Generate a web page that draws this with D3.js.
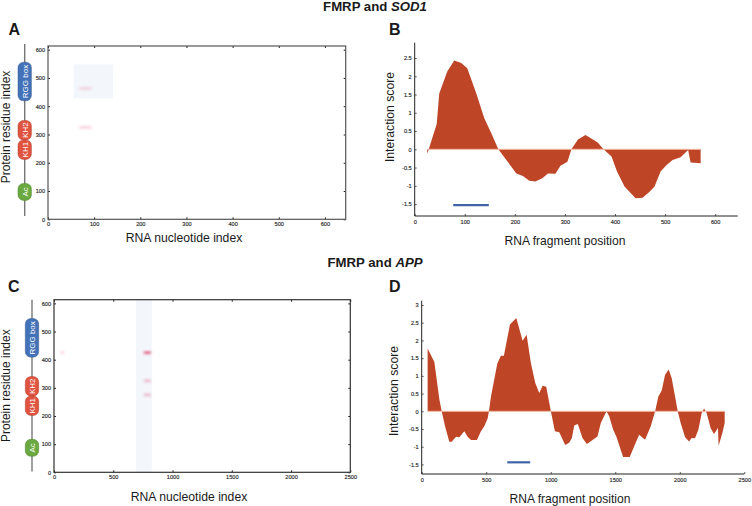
<!DOCTYPE html>
<html><head><meta charset="utf-8">
<script src="https://cdn.jsdelivr.net/npm/d3@7"></script>
<style>html,body{margin:0;background:#fff}svg{display:block}text{font-family:"Liberation Sans",Arial,sans-serif;fill:#1a1a1a}</style>
</head><body><svg id="c" width="752" height="506"></svg>
<script>
const sod1Pos=[25,28,44,49,65,79,93,105,123,139,153,167,183,203,216,229,241,255,266,281,291,305,313,326,341,356,366,377,393,404,419,441,455,469,479,491,503,515,531,546,551,571];
const sod1Score=[-0.12,0,0.69,1.53,2.13,2.43,2.36,2.22,1.53,0.85,0.44,0,-0.29,-0.66,-0.73,-0.86,-0.88,-0.79,-0.66,-0.67,-0.45,-0.34,0,0.27,0.39,0.27,0.18,0,-0.2,-0.61,-1.02,-1.34,-1.33,-1.16,-1.02,-0.61,-0.43,-0.29,-0.22,-0.02,-0.36,-0.38];
const appPos=[46,98,137,155,181,214,232,266,292,330,356,382,428,459,485,511,521,537,586,614,637,684,733,782,813,846,880,911,937,965,1001,1032,1066,1112,1143,1164,1182,1210,1246,1280,1316,1362,1388,1432,1453,1484,1509,1561,1612,1646,1685,1731,1775,1809,1834,1860,1886,1914,1937,1961,1984,2007,2041,2072,2092,2118,2144,2170,2188,2208,2239,2265,2296,2301,2330,2348];
const appScore=[1.77,1.39,0.33,0,-0.42,-0.86,-0.86,-0.72,-0.73,-0.56,-0.72,-0.81,-0.81,-0.56,-0.42,-0.2,0,0.42,1.35,1.57,1.57,2.45,2.63,1.99,2.16,1.36,0.8,0.52,0.72,0.69,0,-0.56,-0.59,-0.95,-0.89,-0.75,-0.4,-0.36,-0.75,-0.92,-0.83,-0.71,-0.33,0,-0.14,-0.52,-0.72,-1.29,-1.29,-0.99,-0.66,-0.8,-0.42,0,0.42,0.59,1.03,1.18,0.94,0.47,0,-0.33,-0.73,-0.85,-0.75,-0.76,-0.52,-0.05,0.08,-0.05,-0.47,-0.64,-0.47,-0.97,-0.61,-0.33];
const domainNames=["Ac","KH1","KH2","RGG box"];
const domainStart=[57,202,271,409];
const domainEnd=[117,271,340,546];
const domainColors=["#6aa93f","#e0533f","#e0533f","#4472b8"];
const heatTicksA=[0,100,200,300,400,500,600];
const heatTicksC=[0,500,1000,1500,2000,2500];
const heatY=[0,100,200,300,400,500,600];
const scoreTicksB=[-1.5,-1,-0.5,0,0.5,1,1.5,2,2.5];
const scoreTicksD=[-1.5,-1,-0.5,0,0.5,1,1.5,2,2.5,3];
const hitsA=[[68,94,463,0.17],[68,94,325,0.2]];
const hitsC=[[760,816,425,0.7],[760,816,325,0.3],[760,816,275,0.3],[55,85,425,0.2]];
const regionA=[55.5,141,428,548];
const regionC=[692,825,0,613];
const barB=[77,148,-1.53];
const barD=[663,841,-1.44];

const svg=d3.select("#c");
const defs=svg.append("defs");
defs.append("filter").attr("id","soft").attr("x","-30%").attr("y","-100%").attr("width","160%").attr("height","300%")
  .append("feGaussianBlur").attr("stdDeviation","1.6 0.9");
const fmt=d=>String(d);

function txt(x,y,s,size,opt={}){
  const t=svg.append("text").attr("x",x).attr("y",y).attr("font-size",size)
   .attr("text-anchor",opt.anchor||"middle").attr("font-weight",opt.bold?"bold":"normal");
  if(opt.rot)t.attr("transform",`rotate(-90 ${x} ${y})`);
  return t.text(s);
}
function tickStyle(g,color,w,size){
  g.select(".domain").remove();
  g.selectAll("line").attr("stroke",color).attr("stroke-width",w);
  g.selectAll("text").attr("font-size",size).attr("fill","#333").attr("stroke","#333").attr("stroke-width",0.15);
}
function heat(o){
  const x=d3.scaleLinear().domain([0,o.xMax]).range([o.x0,o.x1]);
  const y=d3.scaleLinear().domain([0,o.yMax]).range([o.y0,o.y1]);
  const r=o.region;
  svg.append("rect").attr("x",x(r[0])).attr("width",x(r[1])-x(r[0])).attr("y",y(r[3])).attr("height",y(r[2])-y(r[3])).attr("fill","#f3f6fb");
  svg.append("g").attr("filter","url(#soft)").selectAll("rect").data(o.hits).join("rect")
    .attr("x",d=>x(d[0])).attr("width",d=>x(d[1])-x(d[0]))
    .attr("y",d=>y(d[2])-1.6).attr("height",3.2)
    .attr("fill","#e0406a").attr("fill-opacity",d=>d[3]);
  const gb=svg.append("g").attr("transform",`translate(0,${o.y0})`).call(d3.axisBottom(x).tickValues(o.xTicks).tickFormat(fmt).tickSize(-2).tickPadding(o.xPad));
  const gt=svg.append("g").attr("transform",`translate(0,${o.y1})`).call(d3.axisTop(x).tickValues(o.xTicks).tickFormat("").tickSize(-2));
  const gl=svg.append("g").attr("transform",`translate(${o.x0},0)`).call(d3.axisLeft(y).tickValues(heatY).tickFormat(fmt).tickSize(-2).tickPadding(3));
  const gr=svg.append("g").attr("transform",`translate(${o.x1},0)`).call(d3.axisRight(y).tickValues(heatY).tickFormat("").tickSize(-2));
  [gb,gt,gl,gr].forEach(g=>tickStyle(g,"#222",1,5.6));
  svg.append("rect").attr("x",o.x0).attr("y",o.y1).attr("width",o.x1-o.x0).attr("height",o.y0-o.y1).attr("fill","none").attr("stroke",o.frame).attr("stroke-width",1.2);
  const ty=v=>y(v)+o.trackShift;
  svg.append("line").attr("x1",o.trackX).attr("x2",o.trackX).attr("y1",o.trackTop).attr("y2",o.trackBottom).attr("stroke","#777").attr("stroke-width",1.4);
  domainNames.forEach((n,i)=>{
    const a=ty(domainEnd[i]),b=ty(domainStart[i]);
    svg.append("rect").attr("x",o.trackX-6.7).attr("width",13.4).attr("y",a).attr("height",b-a).attr("rx",5.5).attr("ry",5.5)
      .attr("fill",domainColors[i]).attr("stroke",d3.color(domainColors[i]).darker(0.7)).attr("stroke-width",0.5);
  });
  domainNames.forEach((n,i)=>{
    const m=ty((domainStart[i]+domainEnd[i])/2);
    svg.append("text").attr("transform",`translate(${o.trackX+2.8},${m}) rotate(-90)`).attr("text-anchor","middle")
      .attr("font-size",8).style("fill","#fff").text(n);
  });
}
function score(o){
  const x=d3.scaleLinear().domain([0,o.xMax]).range([o.x0,o.x1]);
  const y=d3.scaleLinear().domain([0,o.top]).range([o.yZero,o.yTopPx]);
  const data=o.pos.map((p,i)=>[p,o.val[i]]);
  const full=data.concat([[o.pos[o.pos.length-1],0]]);
  svg.append("path").attr("d",d3.area().x(d=>x(d[0])).y0(y(0)).y1(d=>y(d[1]))(full)).attr("fill","#bf4527");
  svg.append("line").attr("x1",x(o.pos[o.base])).attr("x2",x(o.pos[o.pos.length-1])).attr("y1",y(0)).attr("y2",y(0)).attr("stroke","#f4b79f").attr("stroke-width",1);
  svg.append("line").attr("x1",x(o.bar[0])).attr("x2",x(o.bar[1])).attr("y1",y(o.bar[2])).attr("y2",y(o.bar[2])).attr("stroke","#3f63a8").attr("stroke-width",2.2);
  const yb=o.yAxis;
  const gb=svg.append("g").attr("transform",`translate(0,${yb})`).call(d3.axisBottom(x).tickValues(o.xTicks).tickFormat(fmt).tickSize(-2).tickPadding(o.xPad));
  const gl=svg.append("g").attr("transform",`translate(${o.x0},0)`).call(d3.axisLeft(y).tickValues(o.yTicks).tickFormat(fmt).tickSize(-2).tickPadding(3));
  [gb,gl].forEach(g=>tickStyle(g,"#333",0.8,5.6));
  svg.append("path").attr("d",`M${o.x0},${o.axisTop}V${yb}H${o.axisRight}`).attr("fill","none").attr("stroke","#222").attr("stroke-width",1);
}
heat({xMax:645,yMax:613,x0:48,x1:345.7,y0:219.3,y1:46,region:regionA,hits:hitsA,xTicks:heatTicksA,xPad:3,frame:"#555",trackShift:-2.8,trackX:24.7,trackTop:44,trackBottom:216});
heat({xMax:2500,yMax:613,x0:54,x1:350.3,y0:472.3,y1:299.7,region:regionC,hits:hitsC,xTicks:heatTicksC,xPad:3,frame:"#333",trackShift:0,trackX:32,trackTop:299.7,trackBottom:471.5});
score({xMax:645,x0:414.7,x1:737.7,yZero:149.3,top:2.5,yTopPx:58,pos:sod1Pos,val:sod1Score,bar:barB,xTicks:heatTicksA,yTicks:scoreTicksB,yAxis:216,axisTop:42.7,axisRight:737.7,xPad:4,base:1});
score({xMax:2500,x0:421.7,x1:744.3,yZero:411.3,top:3,yTopPx:305,pos:appPos,val:appScore,bar:barD,xTicks:heatTicksC,yTicks:scoreTicksD,yAxis:474,axisTop:300.7,axisRight:744.3,xPad:4,base:0});

function title(y,a,b){
  const t=svg.append("text").attr("x",375).attr("y",y).attr("text-anchor","middle").attr("font-size",13.2).attr("font-weight","bold");
  t.append("tspan").text(a);
  t.append("tspan").attr("font-style","italic").text(b);
}
title(11,"FMRP and ","SOD1");
title(267,"FMRP and ","APP");
[["A",8.5,34.7],["B",389,34.7],["C",8,292],["D",389,292]].forEach(d=>txt(d[1],d[2],d[0],16,{anchor:"start",bold:true}));
txt(184,242,"RNA nucleotide index",12.2);
txt(9.6,127,"Protein residue index",12,{rot:true});
txt(565,245,"RNA fragment position",12.1);
txt(394,117,"Interaction score",12.2,{rot:true});
txt(189,501,"RNA nucleotide index",12.2);
txt(9.8,385.7,"Protein residue index",12,{rot:true});
txt(570,503,"RNA fragment position",12.1);
txt(398,391,"Interaction score",12.2,{rot:true});
</script></body></html>
